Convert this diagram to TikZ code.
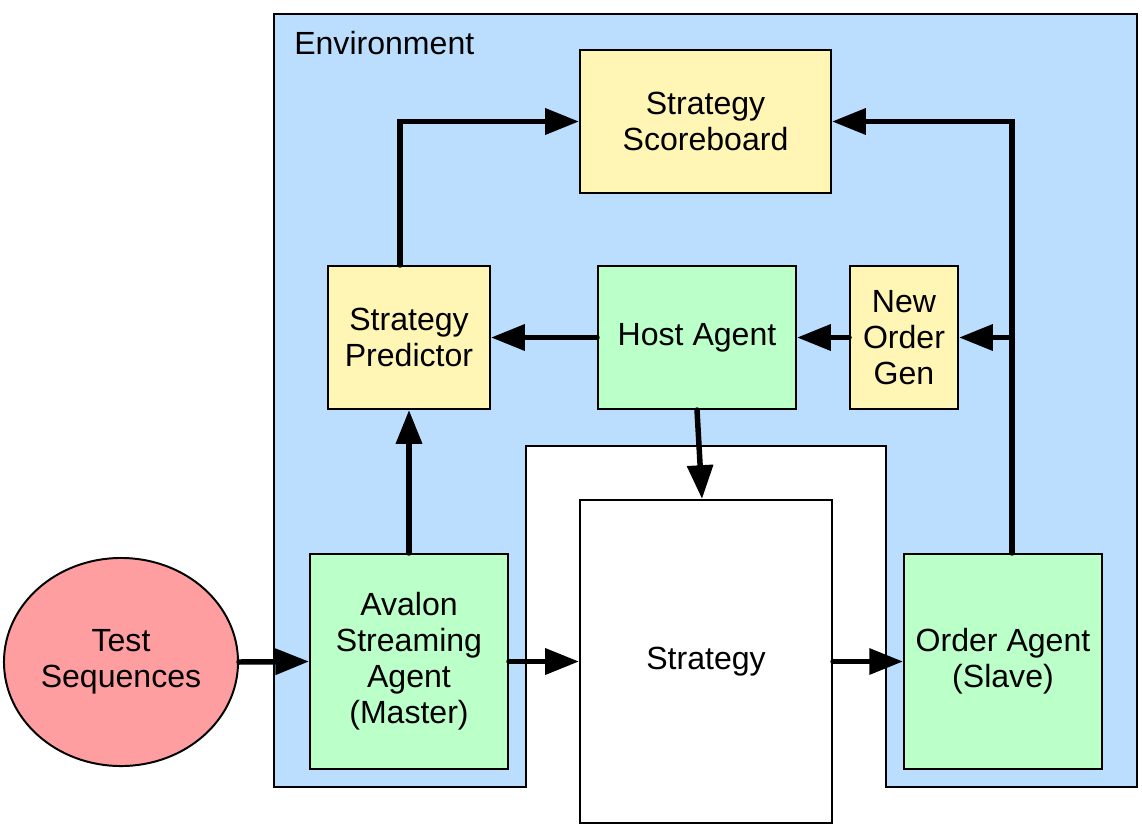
\documentclass[tikz,border=0pt]{standalone}
\usepackage{fontspec}
\setmainfont{Liberation Sans}
\usetikzlibrary{shapes.geometric, arrows.meta, positioning, calc}
\definecolor{envblue}{RGB}{187,222,255}
\definecolor{boxyellow}{RGB}{255,245,180}
\definecolor{boxgreen}{RGB}{187,255,201}
\definecolor{seqred}{RGB}{255,158,161}
\tikzset{
  sys box/.style={
    rectangle, draw=black, line width=1.4pt,
    align=center, font=\fontsize{22.8}{25.6}\selectfont,
    inner sep=2pt
  },
  sys yellow/.style={
    sys box, fill=boxyellow
  },
  sys green/.style={
    sys box, fill=boxgreen
  },
  sys arrow/.style={
    -{Triangle[length=24pt, width=18pt]}, line width=3.9pt,
    line cap=round, line join=miter, draw=black
  }
}

\begin{document}
\begin{tikzpicture}[x=0.025cm, y=-0.025cm]
\useasboundingbox (0,0) rectangle (1142,828);

% ====== Environment ======
\draw[black, line width=1.4pt, fill=envblue]
  (274,14) -- (1137,14) -- (1137,787) -- (886,787) -- (886,446)
  -- (526,446) -- (526,787) -- (274,787) -- cycle;
\node[font=\fontsize{22.8}{25.6}\selectfont, anchor=base west, inner sep=0pt]
  (envlabel) at (294,55) {Environment};

% -- top row --
\node[sys yellow, minimum width=6.275cm, minimum height=3.575cm]
  (score) at (705.5,121.5) {Strategy\\Scoreboard};
\node[sys yellow, minimum width=4.05cm, minimum height=3.575cm]
  (pred) at (409,337.5) {Strategy\\Predictor};
\node[sys green, minimum width=4.95cm, minimum height=3.575cm]
  (host) at (697,337.5) {Host Agent};
\node[sys yellow, minimum width=2.7cm, minimum height=3.575cm]
  (neworder) at (904,337.5) {New\\Order\\Gen};

% -- bottom row --
\node[sys green, minimum width=4.95cm, minimum height=5.375cm]
  (avalon) at (409,661.5) {Avalon\\Streaming\\Agent\\(Master)};
\node[sys box, fill=white, minimum width=6.3cm, minimum height=8.075cm]
  (strat) at (706,661.5) {Strategy};
\node[sys green, minimum width=4.95cm, minimum height=5.375cm]
  (order) at (1003,661.5) {Order Agent\\(Slave)};

% ====== Test Sequences ======
\node[ellipse, draw=black, line width=1.4pt, fill=seqred,
  minimum width=5.85cm, minimum height=5.2cm, inner sep=0pt,
  align=center, font=\fontsize{22.8}{25.6}\selectfont]
  (seq) at (121,662) {Test\\Sequences};

% ====== Connectors ======
\coordinate (predtop) at ($(pred.north)+(-9,0)$);
\coordinate (ordertop) at ($(order.north)+(9,0)$);
\draw[sys arrow] (predtop) |- (score.west);
\draw[sys arrow] (ordertop) |- (score.east);
\draw[sys arrow] (ordertop |- neworder.east) -- (neworder.east);
\draw[sys arrow] (neworder.west) -- (host.east);
\draw[sys arrow] (host.west) -- (pred.east);
\draw[sys arrow] (host.south) -- ($(strat.north)+(-4,0)$);
\draw[sys arrow] (avalon.north) -- (pred.south);
\draw[sys arrow] (seq.east) -- (avalon.west);
\draw[sys arrow] (avalon.east) -- (strat.west);
\draw[sys arrow] (strat.east) -- (order.west);

\end{tikzpicture}
\end{document}
